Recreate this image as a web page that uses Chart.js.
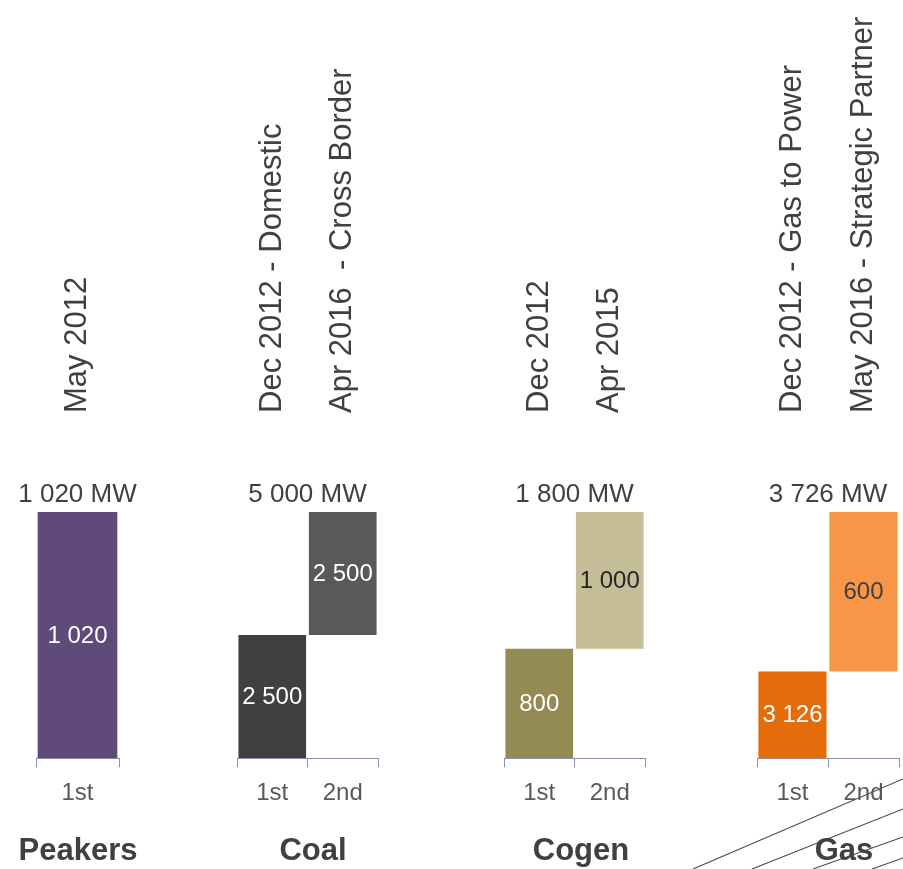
<!DOCTYPE html>
<html>
<head>
<meta charset="utf-8">
<script src="https://cdn.jsdelivr.net/npm/chart.js@4.4.1/dist/chart.umd.min.js"></script>
<style>
  html, body { margin: 0; padding: 0; background: #ffffff; }
  #stage { position: relative; width: 903px; height: 869px; overflow: hidden; }
  #stage canvas { position: absolute; left: 0; top: 0; }
</style>
</head>
<body>
<div id="stage">
  <canvas id="painel0" width="903" height="869"></canvas>
  <canvas id="painel1" width="903" height="869"></canvas>
  <canvas id="painel2" width="903" height="869"></canvas>
  <canvas id="painel3" width="903" height="869"></canvas>
</div>
<script>
// ========================
// DADOS
// ========================

const groups = ["Peakers", "Coal", "Cogen", "Gas"];

const phases = [["1st"], ["1st", "2nd"], ["1st", "2nd"], ["1st", "2nd"]];

const capacityMW = [[1020], [2500, 2500], [800, 1000], [3126, 600]];

const phaseNotes = [
  ["May 2012"],
  ["Dec 2012 - Domestic", "Apr 2016  - Cross Border"],
  ["Dec 2012", "Apr 2015"],
  ["Dec 2012 - Gas to Power", "May 2016 - Strategic Partner"],
];

// gas panel starts its (hidden) axis above zero
const axisFloorMW = [0, 0, 0, 2800];

// ========================
// ESTILO / LAYOUT
// ========================

const FONT = "'Liberation Sans', Arial, sans-serif";
const TEXT = "#404040";
const AXIS = "#8c90aa";

const barColors = [
  ["#604a7b"],
  ["#404040", "#595959"],
  ["#948a54", "#c4bd97"],
  ["#e46c0a", "#f79646"],
];

const valueColors = [
  ["#ffffff"],
  ["#ffffff", "#ffffff"],
  ["#ffffff", "#262626"],
  ["#ffffff", "#404040"],
];

// x extents of each panel's axis, and where its title sits
const panels = [
  { left: 36, right: 119, titleX: 78 },
  { left: 237, right: 378, titleX: 313 },
  { left: 504, right: 645, titleX: 581 },
  { left: 757, right: 899, titleX: 844 },
];

const fmt = (v) => String(v).replace(/\B(?=(\d{3})+(?!\d))/g, " ");

// ========================
// PLUGIN DE RÓTULOS
// ========================

function labelsPlugin(i) {
  return {
    id: "labels" + i,

    beforeDraw(chart) {
      if (i !== 3) return;
      // diagonal strokes in the lower right corner
      const ctx = chart.ctx;
      ctx.save();
      ctx.strokeStyle = "#4a4a4a";
      ctx.lineWidth = 1.1;
      [
        [693, 869, 903, 779],
        [752, 869, 903, 809],
        [813, 869, 903, 837],
        [872, 869, 903, 858],
      ].forEach(([x1, y1, x2, y2]) => {
        ctx.beginPath();
        ctx.moveTo(x1, y1);
        ctx.lineTo(x2, y2);
        ctx.stroke();
      });
      ctx.restore();
    },

    afterDatasetsDraw(chart) {
      const ctx = chart.ctx;
      const area = chart.chartArea;
      const bars = chart.getDatasetMeta(0).data;

      ctx.save();
      ctx.textAlign = "center";
      ctx.textBaseline = "middle";
      ctx.font = "24px " + FONT;

      bars.forEach((bar, j) => {
        const top = Math.max(bar.y, area.top);
        const bottom = Math.min(bar.base, area.bottom);
        ctx.fillStyle = valueColors[i][j];
        ctx.fillText(fmt(capacityMW[i][j]), bar.x, (top + bottom) / 2 + 1);
      });

      // total above the bars
      const total = capacityMW[i].reduce((a, b) => a + b, 0);
      ctx.fillStyle = TEXT;
      ctx.font = "26px " + FONT;
      ctx.textBaseline = "alphabetic";
      ctx.fillText(fmt(total) + " MW", (area.left + area.right) / 2, 502);

      // group title
      ctx.font = "bold 31px " + FONT;
      ctx.fillText(groups[i], panels[i].titleX, 860);

      // vertical phase notes
      ctx.font = "31px " + FONT;
      ctx.textAlign = "left";
      ctx.textBaseline = "middle";
      bars.forEach((bar, j) => {
        ctx.save();
        ctx.translate(bar.x, 413);
        ctx.rotate(-Math.PI / 2);
        ctx.fillText(phaseNotes[i][j], 0, 0);
        ctx.restore();
      });

      ctx.restore();
    },
  };
}

// ========================
// GRÁFICOS
// ========================

function createPanel(i) {
  let acc = 0;
  const ranges = capacityMW[i].map((v) => {
    const r = [acc, acc + v];
    acc += v;
    return r;
  });

  new Chart(document.getElementById("painel" + i), {
    type: "bar",

    data: {
      labels: phases[i],

      datasets: [
        {
          data: ranges,
          backgroundColor: barColors[i],
          borderWidth: 0,
          barPercentage: 0.96,
          categoryPercentage: 1,
        },
      ],
    },

    options: {
      responsive: false,
      animation: false,
      events: [],

      layout: {
        padding: {
          left: panels[i].left,
          right: 903 - panels[i].right,
          top: 512,
          bottom: 50,
        },
      },

      plugins: {
        legend: { display: false },
        tooltip: { enabled: false },
      },

      scales: {
        x: {
          grid: {
            offset: true,
            drawOnChartArea: false,
            drawTicks: true,
            tickLength: 9,
            tickColor: AXIS,
            lineWidth: 1,
          },
          border: { color: AXIS, width: 1 },
          ticks: {
            color: "#595959",
            font: { family: FONT, size: 24 },
            padding: 11.5,
          },
        },

        y: {
          display: false,
          min: axisFloorMW[i],
          max: acc,
        },
      },
    },

    plugins: [labelsPlugin(i)],
  });
}

groups.forEach((g, i) => createPanel(i));
</script>
</body>
</html>
